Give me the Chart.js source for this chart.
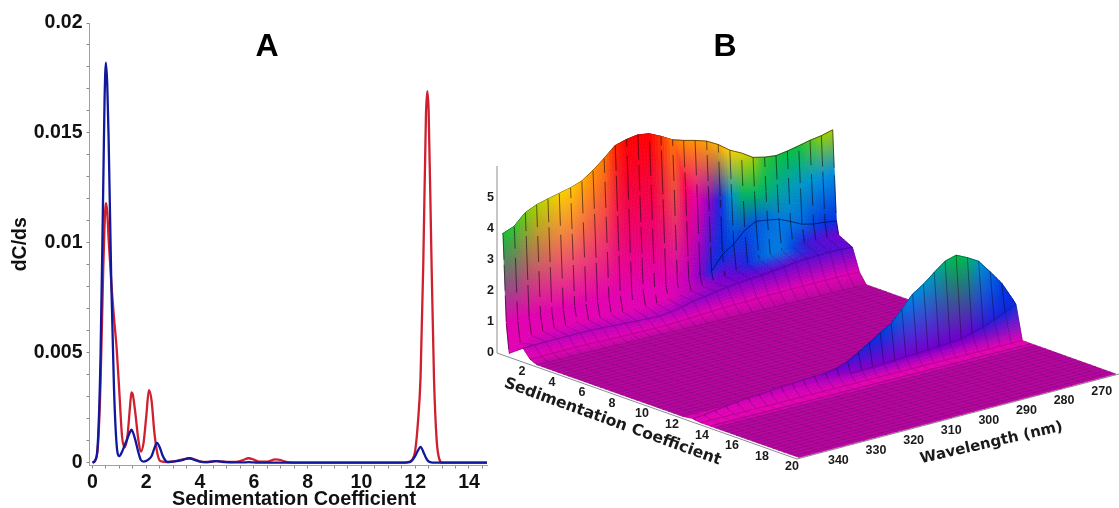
<!DOCTYPE html>
<html><head><meta charset="utf-8">
<style>html,body{margin:0;padding:0;background:#fff;width:1119px;height:508px;overflow:hidden}
canvas{position:absolute;top:0;filter:blur(.4px)}#a{left:0}#b{left:480px}</style>
<script src="https://cdn.jsdelivr.net/npm/chart.js@4"></script></head><body>
<canvas id="a" width="490" height="508"></canvas><canvas id="b" width="639" height="508"></canvas>
<script>
// ---------- Panel A data ----------
const sedimentation=[0,.1,.2,.3,.4,.45,.5,.55,.6,.7,.8,.9,1,1.1,1.2,1.3,1.4,1.45,1.5,1.6,1.7,1.8,1.9,2,2.1,2.2,2.3,2.4,2.5,2.6,2.7,2.8,3,3.2,3.4,3.6,3.8,4,4.2,4.4,4.6,4.8,5,5.4,5.6,5.8,6,6.2,6.5,6.8,7,7.2,7.5,8,9,10,11,11.6,11.8,11.9,12,12.1,12.2,12.3,12.4,12.45,12.5,12.6,12.7,12.8,12.9,13,14,14.67];
const redTrace=[0,.0001,.0007,.0036,.0088,.0108,.0118,.0114,.0102,.0082,.0066,.0052,.0032,.0012,.0007,.0012,.0026,.0032,.0031,.0022,.0011,.0005,.0009,.0021,.0033,.0028,.0014,.0005,.0001,.00005,.00003,.00002,.00005,.0001,.00016,.0002,.00015,.00006,.00003,.00004,.00007,.00005,.00003,.00005,.00012,.0002,.00014,.00004,.00005,.00015,.00012,.00003,0,0,0,0,0,0,.00005,.00015,.00055,.0018,.0039,.009,.0158,.0169,.016,.0096,.0038,.001,.00015,0,0,0];
const blueTrace=[0,.0001,.0009,.0048,.0125,.0165,.0182,.0172,.0148,.0082,.0034,.0008,.0003,.0005,.0008,.0011,.0014,.0015,.0014,.001,.0005,.00012,.00005,.00008,.00016,.0003,.00065,.0009,.0007,.00035,.00012,.00003,.00005,.00008,.00014,.0002,.00012,.00005,.00002,.00004,.00007,.00004,.00002,.00001,.00001,.00002,.00001,0,0,0,0,0,0,0,0,0,0,0,.00002,.00012,.0003,.00055,.00072,.0005,.00022,.00012,.00005,.00001,0,0,0,0,0,0];
const xMajorTicks=[0,2,4,6,8,10,12,14];
const xMinorTicks=[.5,1,1.5,2.5,3,3.5,4.5,5,5.5,6.5,7,7.5,8.5,9,9.5,10.5,11,11.5,12.5,13,13.5,14.5];
const yMajorTicks=[0,.005,.01,.015,.02];
const yMinorTicks=[.001,.002,.003,.004,.006,.007,.008,.009,.011,.012,.013,.014,.016,.017,.018,.019];
const yTickLabels=['0','0.005','0.01','0.015','0.02'];

// ---------- Panel B data ----------
const wavelengths=[350,347.1,344.2,341.3,338.4,335.5,332.6,329.7,326.8,323.9,321,318.1,315.2,312.3,309.4,306.5,303.6,300.7,297.8,294.9,292,289.1,286.2,283.3,280.4,277.5,274.6,271.7,268.8,265.9];
const wallTop=[3.88,4.02,4.37,4.54,4.64,4.73,4.82,4.95,5.2,5.5,5.83,5.94,6,5.95,5.78,5.58,5.47,5.38,5.27,5.07,4.8,4.62,4.39,4.31,4.27,4.33,4.41,4.5,4.56,4.66];
const wallTopValue=[.56,.58,.62,.66,.70,.74,.76,.80,.84,.88,.96,1,1,1,.95,.88,.85,.84,.82,.80,.75,.72,.66,.58,.56,.55,.56,.60,.64,.66];
const wallUpper=[3.88,4.02,4.37,4.54,4.64,4.73,4.82,4.95,5.2,5.5,5.83,5.94,6,5.95,5.78,5.58,3.9,3.5,3.3,3.3,3.3,3.3,3.2,3.2,3.2,3.2,3.2,3.2,3.2,3.2];
const wallUpperValue=[.56,.58,.62,.66,.70,.74,.76,.80,.84,.88,.96,1,1,1,.95,.88,-.8,-.1,.14,.3,.46,.53,.53,.52,.5,.48,.47,.46,.45,.44];
const wallCrease=[1,1,1,1,1,1,1,1,1,1,1,1,1,1,1,1,1,1,1.08,1.54,1.78,2.14,2.34,2.29,2.23,2.07,1.89,1.81,1.78,1.73];
const wallCreaseValue=[0,0,0,0,0,0,0,0,0,0,0,0,0,0,0,.02,.06,.16,.3,.33,.35,.36,.38,.4,.42,.42,.4,.36,.34,.33];
const wallFoot=[.05,.3,.45,.5,.5,.5,.5,.5,.5,.5,.5,.5,.5,.5,.55,.6,.65,.72,.75,.85,.95,1.05,1.15,1.2,1.25,1.25,1.3,1.3,1.3,1.3];
const wallFootValue=[0,0,0,0,0,0,0,0,0,0,0,0,0,0,0,.03,.06,.1,.16,.2,.24,.3,.38,.42,.42,.36,.28,.24,.22,.2];
const ridge=[.38,.40,.41,.42,.42,.43,.43,.42,.40,.39,.37,.36,.35,.40,.48,.57,.63,.70,.76,.80,.84,.87,.92,.97,1.03,1.05,1.07,1.09,1.08,1.06];
const ridgeValue=[.04,.05,.06,.06,.07,.07,.07,.07,.07,.07,.07,.07,.08,.09,.11,.13,.15,.16,.17,.18,.19,.2,.21,.22,.22,.23,.23,.23,.23,.22];
const ridgeFront=[.1,.1,.12,.12,.13,.13,.13,.12,.12,.12,.12,.12,.13,.15,.17,.2,.22,.24,.26,.27,.28,.3,.3,.32,.32,.33,.33,.34,.34,.33];
const ridgeFrontValue=[0,0,0,0,0,0,0,0,0,0,0,0,0,0,0,0,0,0,0,0,0,0,0,0,0,0,0,0,0,0];
const peakBack=[.02,.03,.05,.07,.09,.11,.12,.13,.15,.16,.17,.18,.19,.22,.28,.38,.48,.6,.7,.85,1.05,1.2,1.3,1.5,1.5,1.45,1.35,1.15,.95,.65];
const peakTop=[.04,.07,.12,.17,.21,.25,.27,.3,.33,.35,.38,.4,.41,.48,.61,.81,1.03,1.26,1.47,1.83,2.23,2.46,2.75,3.02,3.12,2.95,2.74,2.31,1.85,1.21];
const peakTopValue=[.02,.02,.03,.03,.04,.04,.05,.06,.07,.08,.1,.12,.16,.2,.24,.28,.31,.34,.37,.41,.44,.46,.48,.52,.55,.53,.47,.41,.35,.31];
const peakCrease=[.02,.04,.06,.08,.1,.12,.14,.15,.17,.18,.2,.22,.23,.24,.25,.26,.27,.29,.31,.33,.35,.37,.39,.42,.45,.55,.65,.8,.95,1.1];
const peakCreaseValue=[0,0,0,.01,.01,.02,.02,.03,.03,.04,.05,.07,.09,.11,.13,.15,.16,.17,.18,.18,.19,.19,.2,.2,.2,.22,.26,.29,.31,.32];
const farFloorS=[2.4,2.75,3.1,3.45,3.8,4.15,4.5,4.85,5.2,5.55,5.9,6.25,6.6,6.95,7.3,7.65,8,8.35,8.7,9.05,9.4,9.75,10.1,10.45,10.8,11.15,11.5,11.85,12.1];
const nearFloorS=[14.3,14.65,15,15.35,15.7,16.05,16.4,16.75,17.1,17.45,17.8,18.15,18.5,18.85,19.2,19.55,19.9];
const flatFloor=[0,0,0,0,0,0,0,0,0,0,0,0,0,0,0,0,0,0,0,0,0,0,0,0,0,0,0,0,0,0];
const floorShade=[-2,-2,-2,-2,-2,-2,-2,-2,-2,-2,-2,-2,-2,-2,-2,-2,-2,-2,-2,-2,-2,-2,-2,-2,-2,-2,-2,-2,-2,-2];
const brightFloor=[0,0,0,0,0,0,0,0,0,0,0,0,0,0,0,0,0,0,0,0,0,0,0,0,0,0,0,0,0,0];
const heightTicks=[0,1,2,3,4,5];
const sTicks=[2,4,6,8,10,12,14,16,18,20];
const wavelengthTicks=[340,330,320,310,300,290,280,270];

// ---------- Panel A chart ----------
const lookup=(v)=>{const i=yMajorTicks.findIndex(t=>Math.abs(t-v)<1e-6);return i<0?'':yTickLabels[i];};
const pairs=(ys)=>sedimentation.map((x,i)=>({x,y:ys[i]}));
const tickFont={family:'"Liberation Sans"',size:19.5,weight:'bold'};
new Chart(document.getElementById('a'),{
 type:'scatter',
 data:{datasets:[
  {label:'Red',order:1,data:pairs(redTrace),showLine:true,borderColor:'#cf2030',borderWidth:2.3,pointRadius:0,cubicInterpolationMode:'monotone'},
  {label:'Blue',order:0,data:pairs(blueTrace),showLine:true,borderColor:'#10189c',borderWidth:2.3,pointRadius:0,cubicInterpolationMode:'monotone'}]},
 options:{responsive:false,animation:false,devicePixelRatio:1,
  layout:{padding:{top:23,right:3,left:0,bottom:0}},
  plugins:{legend:{display:false},tooltip:{enabled:false}},
  scales:{
   x:{type:'linear',min:-.11,max:14.67,
    afterBuildTicks(s){s.ticks=[...xMajorTicks,...xMinorTicks].sort((a,b)=>a-b).map(value=>({value}));},
    afterFit(s){s.height=42.5;},
    border:{color:'#a0a0a0',width:1},
    grid:{drawOnChartArea:false,drawTicks:true,tickLength:3,color:'#8a8a8a'},
    ticks:{autoSkip:false,maxRotation:0,padding:2,color:'#111',font:tickFont,callback:v=>xMajorTicks.includes(v)?String(v):''}},
   y:{type:'linear',min:-.00013,max:.02,
    afterBuildTicks(s){s.ticks=[...yMajorTicks,...yMinorTicks].sort((a,b)=>a-b).map(value=>({value}));},
    afterFit(s){s.width=89.5;},
    border:{color:'#a0a0a0',width:1},
    grid:{drawOnChartArea:false,drawTicks:true,tickLength:3,color:'#8a8a8a'},
    ticks:{autoSkip:false,padding:4,color:'#111',font:tickFont,callback:lookup},
    title:{display:true,text:'dC/ds',color:'#111',font:{family:'"Liberation Sans"',size:19.5,weight:'bold'},padding:{top:9,bottom:0}}}
  }},
 plugins:[{id:'panelLabelsA',afterDraw(c){const g=c.ctx;g.save();g.fillStyle='#000';g.textAlign='center';g.textBaseline='middle';
  g.font='bold 32px "Liberation Sans"';g.fillText('A',267,47);
  g.fillStyle='#111';g.font='bold 19.8px "Liberation Sans"';g.fillText('Sedimentation Coefficient',294,500);g.restore();}}]
});

// ---------- Panel B chart: projected surface ----------
const corner={A:[497,353],B:[797,459],C:[1119,374],D:[834,272]};
const zPx=31,lean=.03;
function plane(s,w,h){
 const u=s/20,v=(351-w)/85.6;
 const f=k=>(1-u)*(1-v)*corner.A[k]+u*(1-v)*corner.B[k]+u*v*corner.C[k]+(1-u)*v*corner.D[k];
 return {x:f(0)-lean*zPx*h,y:f(1)-zPx*h};
}
const rows=[
 {s:.35,h:wallTop,v:wallTopValue,col:'wall',line:'top'},
 {s:.38,h:wallUpper,v:wallUpperValue,col:'wall'},
 {s:.42,h:wallCrease,v:wallCreaseValue,col:'wall',line:'crease'},
 {s:.55,h:wallFoot,v:wallFootValue,col:'soft'},
 {s:1.5,h:ridge,v:ridgeValue,col:'soft',line:'ridge'},
 {s:1.95,h:ridgeFront,v:ridgeFrontValue,col:'soft',line:'mesh'},
 ...farFloorS.map(s=>({s,h:flatFloor,v:floorShade,col:'mesh',line:'mesh'})),
 {s:12.5,h:peakBack,v:peakCreaseValue,col:'none'},
 {s:12.8,h:peakTop,v:peakTopValue,col:'peak',line:'peakEdge'},
 {s:12.98,h:peakCrease,v:peakCreaseValue,col:'soft',line:'crease2'},
 {s:13.35,h:flatFloor,v:brightFloor,col:'mesh',line:'mesh'},
 {s:13.95,h:flatFloor,v:brightFloor,col:'mesh',line:'mesh'},
 ...nearFloorS.map(s=>({s,h:flatFloor,v:floorShade,col:'mesh',line:'mesh'})),
];
const vertices=rows.flatMap(r=>wavelengths.map((w,i)=>plane(r.s,w,r.h[i])));
const palette=[[-2,[184,6,160]],[-1,[255,0,80]],[0,[226,0,178]],[.2,[112,0,208]],[.33,[0,48,224]],[.45,[0,144,224]],[.55,[0,192,64]],[.65,[160,208,0]],[.75,[255,208,0]],[.87,[255,128,0]],[1,[255,0,0]]];
function colorOf(v){
 for(let i=1;i<palette.length;i++){
  if(v<=palette[i][0]){const[a,ca]=palette[i-1],[b,cb]=palette[i],t=Math.max(0,(v-a)/(b-a));return ca.map((c,k)=>c+(cb[k]-c)*t);}
 }
 return palette[palette.length-1][1];
}
const css=c=>`rgb(${c[0]|0},${c[1]|0},${c[2]|0})`;
const surfacePlugin={id:'surface',afterDatasetsDraw(chart){
 const g=chart.ctx,pts=chart.getDatasetMeta(0).data,C=wavelengths.length;
 const sx=chart.scales.x,sy=chart.scales.y;
 const P=(o)=>[sx.getPixelForValue(o.x),sy.getPixelForValue(o.y)];
 const pt=(r,c)=>pts[r*C+c];
 g.save();
 g.strokeStyle='#8c8c8c';g.lineWidth=1;
 const top=P({x:497,y:166}),a0=P(plane(0,351,0)),b0=P(plane(20,351,0)),c0=P(plane(20,265.4,0));
 g.beginPath();g.moveTo(a0[0],top[1]);g.lineTo(a0[0],a0[1]);g.lineTo(b0[0],b0[1]);g.lineTo(c0[0],c0[1]);g.stroke();
 g.lineJoin='round';
 for(let r=0;r<rows.length-1;r++){
  for(let c=0;c<C-1;c++){
   const p00=pt(r,c),p01=pt(r,c+1),p10=pt(r+1,c),p11=pt(r+1,c+1);
   const k00=colorOf(rows[r].v[c]),k01=colorOf(rows[r].v[c+1]),k10=colorOf(rows[r+1].v[c]),k11=colorOf(rows[r+1].v[c+1]);
   const tall=Math.max(Math.abs(p10.y-p00.y),Math.abs(p11.y-p01.y));
   const nv=Math.max(1,Math.min(40,Math.ceil(tall/3)));
   const nu=(rows[r].v[c]===-2&&rows[r+1].v[c]===-2)?1:4;
   const nvv=nu===1?1:nv;
   for(let a=0;a<nvv;a++)for(let b=0;b<nu;b++){
    const bl=(q,w,key)=>{const t=q/nvv,e=w/nu;return (1-t)*((1-e)*p00[key]+e*p01[key])+t*((1-e)*p10[key]+e*p11[key]);};
    const t=(a+.5)/nvv,e=(b+.5)/nu;
    const col=k00.map((v,i)=>(1-t)*((1-e)*v+e*k01[i])+t*((1-e)*k10[i]+e*k11[i]));
    g.fillStyle=g.strokeStyle=css(col);g.lineWidth=.7;
    g.beginPath();g.moveTo(bl(a,b,'x'),bl(a,b,'y'));g.lineTo(bl(a,b+1,'x'),bl(a,b+1,'y'));g.lineTo(bl(a+1,b+1,'x'),bl(a+1,b+1,'y'));g.lineTo(bl(a+1,b,'x'),bl(a+1,b,'y'));g.closePath();g.fill();g.stroke();
   }
  }
  const kind=rows[r].col;
  if(kind!=='none'){
   for(let c=0;c<C;c++){
    const p=pt(r,c),q=pt(r+1,c);
    if(kind==='wall'){g.strokeStyle='rgba(10,0,10,.62)';g.lineWidth=.9;g.setLineDash([26+(c%3)*9,5+(c%2)*4]);g.lineDashOffset=c*13;}
    else if(kind==='peak'){g.strokeStyle='rgba(10,0,30,.5)';g.lineWidth=.8;g.setLineDash([]);}
    else if(kind==='soft'){g.strokeStyle='rgba(40,0,60,.34)';g.lineWidth=.7;g.setLineDash([]);}
    else{g.strokeStyle='rgba(60,0,60,.24)';g.lineWidth=.6;g.setLineDash([]);}
    g.beginPath();g.moveTo(p.x,p.y);g.lineTo(q.x,q.y);g.stroke();
   }
   g.setLineDash([]);
  }
  const style=rows[r].line;
  if(style){
   const from=style==='crease'?18:style==='crease2'?14:0;
   g.strokeStyle=style==='top'?'rgba(50,30,0,.75)':style==='crease'?'rgba(0,0,60,.7)':style==='ridge'?'rgba(50,0,90,.5)':style==='peakEdge'?'rgba(0,20,60,.4)':style==='crease2'?'rgba(40,0,90,.45)':'rgba(50,0,50,.42)';
   g.lineWidth=style==='mesh'?.6:.9;
   g.beginPath();
   for(let c=from;c<C;c++){const p=pt(r,c);c===from?g.moveTo(p.x,p.y):g.lineTo(p.x,p.y);}
   g.stroke();
  }
 }
 g.fillStyle='#1a1a1a';g.textBaseline='middle';g.textAlign='right';
 g.font='bold 12.5px "Liberation Sans"';
 heightTicks.forEach(t=>{const p=P(plane(0,351,t));g.fillText(String(t),a0[0]-3,p[1]);});
 g.textAlign='center';
 sTicks.forEach(t=>{const p=P(plane(t,351,0));g.fillText(String(t),p[0]-5,p[1]+8);});
 wavelengthTicks.forEach(t=>{const p=P(plane(20,t,0));g.fillText(String(t),p[0],p[1]+12.5);});
 g.font='bold 15.7px "DejaVu Sans"';
 const t1=P({x:612.5,y:422});g.save();g.translate(t1[0],t1[1]);g.rotate(19.9*Math.PI/180);g.fillText('Sedimentation Coefficient',0,0);g.restore();
 g.font='bold 15px "DejaVu Sans"';
 const t2=P({x:991.5,y:443});g.save();g.translate(t2[0],t2[1]);g.rotate(-13*Math.PI/180);g.fillText('Wavelength (nm)',0,0);g.restore();
 g.font='bold 32px "Liberation Sans"';g.fillStyle='#000';
 const t3=P({x:725,y:47});g.fillText('B',t3[0],t3[1]);
 g.restore();
}};
new Chart(document.getElementById('b'),{
 type:'scatter',
 data:{datasets:[{label:'Surface vertices',data:vertices,pointRadius:0,showLine:false}]},
 options:{responsive:false,animation:false,devicePixelRatio:1,layout:{padding:0},
  plugins:{legend:{display:false},tooltip:{enabled:false}},
  scales:{x:{type:'linear',min:480,max:1119,display:false},y:{type:'linear',min:0,max:508,reverse:true,display:false}}},
 plugins:[surfacePlugin]
});
</script></body></html>
